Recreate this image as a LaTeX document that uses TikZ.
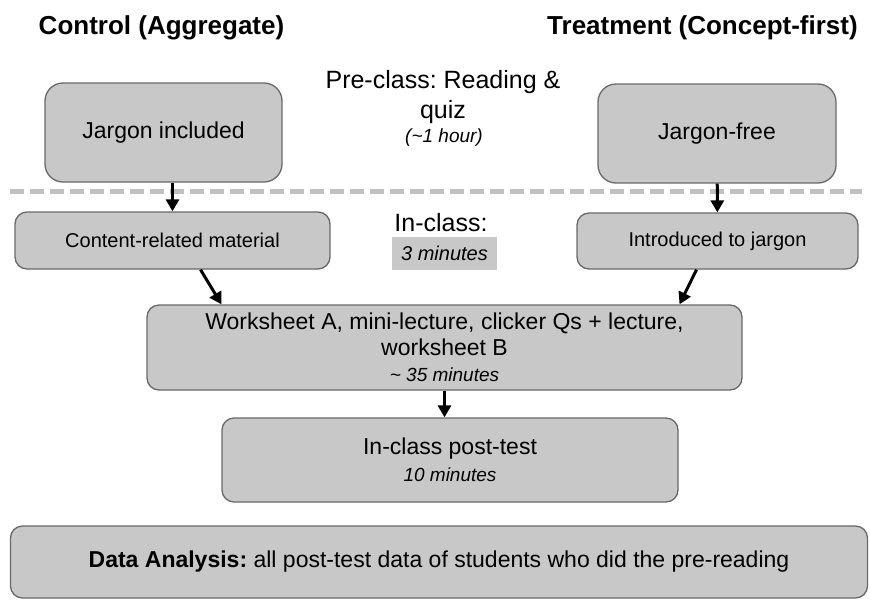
\documentclass[tikz,border=0pt]{standalone}
\usepackage{fontspec}
\setmainfont{Liberation Sans}
\frenchspacing
\usetikzlibrary{arrows.meta}
\definecolor{boxgray}{RGB}{200,200,200}
\definecolor{edgegray}{RGB}{105,105,105}
\definecolor{dashgray}{RGB}{192,192,192}

\begin{document}
\begin{tikzpicture}[x=1pt,y=-1pt]
  \tikzstyle{box}=[draw=edgegray,fill=boxgray,line width=1.3pt,rounded corners=12pt,align=center,inner sep=0pt]
  \tikzstyle{bigbox}=[box,rounded corners=18pt]
  \tikzstyle{arr}=[line width=3pt,-{Triangle[length=12pt,width=13pt]}]
  \tikzstyle{sep}=[dashgray,line width=5pt,dash pattern=on 14pt off 6pt]
  \useasboundingbox (0,0) rectangle (870,600);
  % headings
  \node (ctrl) at (161.5,28) {\fontsize{26}{30}\selectfont\bfseries Control (Aggregate)};
  \node (treat) at (702.5,28) {\fontsize{26}{30}\selectfont\bfseries Treatment (Concept-first)};
  % pre-class
  \node[bigbox,minimum width=237pt,minimum height=99pt] (jinc) at (163.5,132.5) {\fontsize{23}{27}\selectfont Jargon included};
  \node[bigbox,minimum width=238pt,minimum height=99pt] (jfree) at (717,133.5) {\fontsize{23}{27}\selectfont Jargon-free};
  \node (pre) at (443,82) {\fontsize{25}{29}\selectfont Pre-class: Reading \&};
  \node (quiz) at (443,112) {\fontsize{25}{29}\selectfont quiz};
  \node (hour) at (444,138) {\fontsize{19}{23}\selectfont\itshape (\textasciitilde 1 hour)};
  \coordinate (dl) at (10,191);
  \coordinate (dr) at (862,191);
  \draw[sep] (dl) -- (dr);
  % in-class
  \node[box,minimum width=315pt,minimum height=57pt] (cont) at (172.5,240.5) {\fontsize{20}{24}\selectfont Content-related material};
  \node[box,minimum width=281pt,minimum height=56pt] (intro) at (717.5,241) {\fontsize{20}{24}\selectfont Introduced to jargon};
  \node (incl) at (441,223) {\fontsize{25}{29}\selectfont In-class:};
  \node[fill=boxgray,minimum width=105pt,minimum height=33pt] (three) at (444.5,253.5) {\fontsize{20}{24}\selectfont\itshape 3 minutes};
  \node[box,minimum width=595pt,minimum height=85pt,font=\fontsize{23}{26}\selectfont] (work) at (444.5,347.5)
    {Worksheet A, mini-lecture, clicker Qs + lecture,\\ worksheet B\\ {\fontsize{19}{22}\selectfont\itshape \textasciitilde\ 35 minutes}};
  \node[box,minimum width=456pt,minimum height=84pt,font=\fontsize{23}{27}\selectfont] (post) at (450,460)
    {In-class post-test\\ {\fontsize{19}{22}\selectfont\itshape 10 minutes}};
  \node[box,minimum width=857pt,minimum height=72pt] (data) at (439,562) {\fontsize{23}{27}\selectfont\textbf{Data Analysis:} all post-test data of students who did the pre-reading};
  % arrows
  \draw[arr] (jinc.south -| cont.north) -- (cont.north);
  \draw[arr] (jfree) -- (intro);
  \draw[arr] ([xshift=28pt]cont.south) -- ([xshift=-223pt]work.north);
  \draw[arr] ([xshift=-21pt]intro.south) -- ([xshift=235pt]work.north);
  \draw[arr] (work.south) -- (work.south |- post.north);
\end{tikzpicture}
\end{document}
